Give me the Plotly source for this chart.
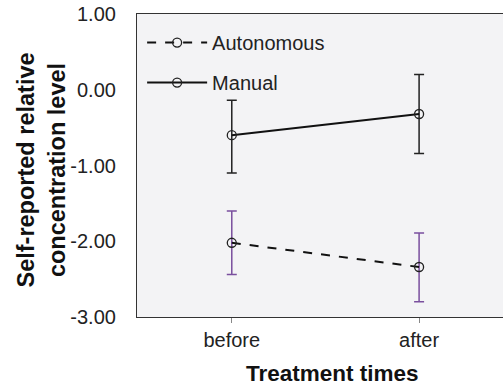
import plotly.graph_objects as go

times = ["before", "after"]
auto_mean = [-2.02, -2.34]
auto_upper = [-1.60, -1.89]
auto_lower = [-2.44, -2.80]
man_mean = [-0.60, -0.32]
man_upper = [-0.14, 0.20]
man_lower = [-1.10, -0.84]
y_ticks = [1, 0, -1, -2, -3]
y_tick_text = ["1.00", "0.00", "-1.00", "-2.00", "-3.00"]

FONT = "Liberation Sans, Arial, sans-serif"

def err(upper, mean, lower):
    return dict(type="data", symmetric=False,
                array=[u - m for u, m in zip(upper, mean)],
                arrayminus=[m - l for m, l in zip(mean, lower)])

fig = go.Figure()
e1 = err(auto_upper, auto_mean, auto_lower)
e1.update(color="#7a4f9e", thickness=1.5, width=5)
fig.add_trace(go.Scatter(
    x=[0, 1], y=auto_mean, name="Autonomous", mode="lines+markers",
    line=dict(color="#111111", width=2, dash="dash"),
    marker=dict(symbol="circle-open", size=9, color="#222222", line=dict(width=1.3)),
    error_y=e1, legendgroup="a"))
e2 = err(man_upper, man_mean, man_lower)
e2.update(color="#222222", thickness=1.5, width=5)
fig.add_trace(go.Scatter(
    x=[0, 1], y=man_mean, name="Manual", mode="lines+markers",
    line=dict(color="#111111", width=2),
    marker=dict(symbol="circle-open", size=9, color="#222222", line=dict(width=1.3)),
    error_y=e2, legendgroup="m"))

fig.update_layout(
    width=503, height=388,
    margin=dict(l=137, r=0, t=14, b=71),
    paper_bgcolor="white", plot_bgcolor="#f3f3f5",
    font=dict(family=FONT, size=20, color="#222222"),
    showlegend=True,
    legend=dict(x=0.014, y=0.97, xanchor="left", yanchor="top",
                bgcolor="rgba(0,0,0,0)", font=dict(size=20),
                itemwidth=60, tracegroupgap=11),
    xaxis=dict(range=[-0.506, 1.448], tickvals=[0, 1], ticktext=times,
               showgrid=False, zeroline=False, showline=True, linecolor="#333333",
               linewidth=1.2, mirror=True, ticks="outside", ticklen=5,
               tickcolor="#888888", tickfont=dict(size=20)),
    yaxis=dict(range=[-3, 1], tickvals=y_ticks, ticktext=y_tick_text,
               showgrid=False, zeroline=False, showline=True, linecolor="#333333",
               linewidth=1.2, ticks="", ticklabelstandoff=16, tickfont=dict(size=20)),
    annotations=[
        dict(text="<b>Treatment times</b>", xref="paper", yref="paper",
             x=0.533, y=-0.186, xanchor="center", yanchor="middle",
             showarrow=False, font=dict(size=22.5, color="#111111")),
        dict(text="<b>Self-reported relative<br>concentration level</b>",
             xref="paper", yref="paper", x=-0.261, y=0.485, textangle=-90,
             xanchor="center", yanchor="middle", showarrow=False,
             font=dict(size=23.5, color="#111111")),
    ],
)

fig.write_html("out.html")
